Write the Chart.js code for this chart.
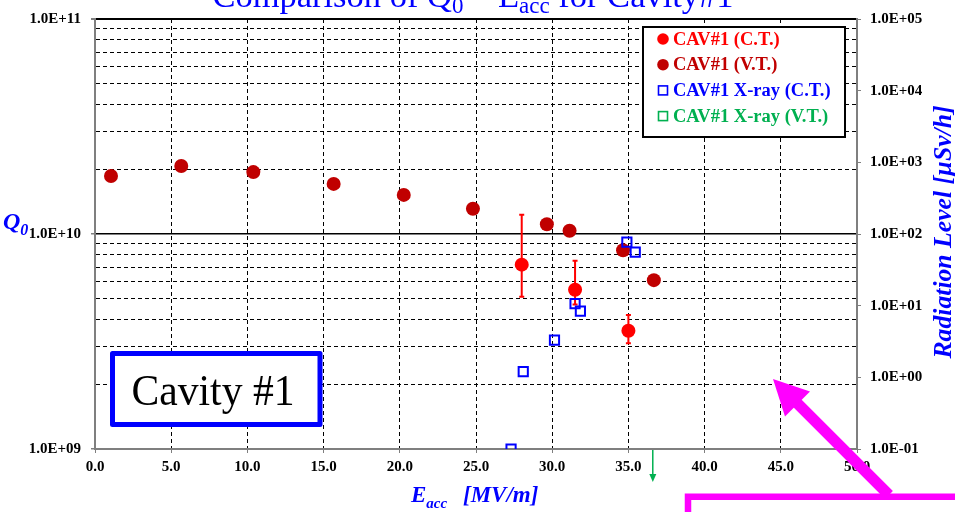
<!DOCTYPE html>
<html>
<head>
<meta charset="utf-8">
<script src="https://cdn.jsdelivr.net/npm/chart.js@4.4.0/dist/chart.umd.min.js"></script>
<style>
  html, body { margin: 0; padding: 0; background: #fff; }
  #wrap { width: 955px; height: 512px; }
</style>
</head>
<body>
<div id="wrap"><canvas id="q0Chart" width="955" height="512"></canvas></div>
<script>
// Vertical test: Eacc [MV/m] vs Q0
const vtEacc = [1.05, 5.66, 10.39, 15.66, 20.26, 24.8, 29.65, 31.14, 34.65, 36.67];
const vtQ0 = [1.86e10, 2.07e10, 1.94e10, 1.71e10, 1.52e10, 1.31e10, 1.11e10, 1.035e10, 8.4e9, 6.1e9];

// Cryomodule test, with upper / lower limits of the error bars
const ctEacc = [28.0, 31.5, 35.0];
const ctQ0 = [7.2e9, 5.5e9, 3.55e9];
const ctQ0Hi = [1.23e10, 7.5e9, 4.2e9];
const ctQ0Lo = [5.1e9, 4.7e9, 3.1e9];

// Radiation level [uSv/h] during the cryomodule test
const xrayCtEacc = [27.3, 28.1, 30.15, 31.5, 31.85, 34.9, 35.45];
const xrayCtDose = [0.1, 1.2, 3.3, 10.7, 8.4, 77, 56];

// Vertical test radiation: below the axis range, shown as an arrow
const xrayVtEacc = [36.6];
const xrayVtDose = [0.05];

const seriesLabels = ['CAV#1 (C.T.)', 'CAV#1 (V.T.)', 'CAV#1 X-ray (C.T.)', 'CAV#1 X-ray (V.T.)'];

const BLUE = '#0000ff', RED = '#ff0000', DARKRED = '#c00000', GREEN = '#00b050', MAGENTA = '#ff00ff';
const GRAY = '#7f7f7f', CLEAR = 'rgba(0,0,0,0)';
const SERIF = '"Liberation Serif", "Times New Roman", serif';

const pts = (xs, ys) => xs.map((x, i) => ({ x: x, y: ys[i] }));
const isDecade = v => Math.abs(Math.log10(v) - Math.round(Math.log10(v))) < 1e-9;
const expLabel = v => {
  const e = Math.round(Math.log10(v));
  return '1.0E' + (e < 0 ? '-' : '+') + String(Math.abs(e)).padStart(2, '0');
};

const q0Ticks = [];
for (let e = 9; e < 11; e++) for (let m = 1; m < 10; m++) q0Ticks.push(m * Math.pow(10, e));
q0Ticks.push(1e11);
const doseTicks = [0.1, 1, 10, 100, 1000, 10000, 100000];

const tickFont = { family: SERIF, size: 15, weight: 'bold' };

// text with subscripts: parts = [[text, isSub], ...]
function drawRich(ctx, parts, x, y, size, style, color, subSize, subDrop) {
  ctx.fillStyle = color;
  ctx.textBaseline = 'alphabetic';
  ctx.textAlign = 'left';
  let cx = x;
  parts.forEach(([t, sub]) => {
    ctx.font = style + ' ' + (sub ? subSize : size) + 'px ' + SERIF;
    ctx.fillText(t, cx, sub ? y + subDrop : y);
    cx += ctx.measureText(t).width;
  });
  return cx - x;
}
function richWidth(ctx, parts, size, style, subSize) {
  let w = 0;
  parts.forEach(([t, sub]) => {
    ctx.font = style + ' ' + (sub ? subSize : size) + 'px ' + SERIF;
    w += ctx.measureText(t).width;
  });
  return w;
}

const errorBars = {
  id: 'errorBars',
  beforeDatasetsDraw(chart) {
    const { ctx, scales: { x, y } } = chart;
    ctx.save();
    ctx.strokeStyle = RED;
    ctx.lineWidth = 2;
    ctEacc.forEach((e, i) => {
      const px = x.getPixelForValue(e);
      const top = y.getPixelForValue(ctQ0Hi[i]);
      const bot = y.getPixelForValue(ctQ0Lo[i]);
      ctx.beginPath();
      ctx.moveTo(px, top); ctx.lineTo(px, bot);
      ctx.moveTo(px - 2.5, top); ctx.lineTo(px + 2.5, top);
      ctx.moveTo(px - 2.5, bot); ctx.lineTo(px + 2.5, bot);
      ctx.stroke();
    });
    ctx.restore();
  }
};

const decorations = {
  id: 'decorations',
  afterDraw(chart) {
    const { ctx, scales: { x, y2 } } = chart;
    ctx.save();

    // title, top part runs off the canvas
    const title = [['Comparison of Q', false], ['0', true], [' \u2013 E', false], ['acc', true], [' for Cavity#1', false]];
    const tw = richWidth(ctx, title, 34.5, 'normal', 23);
    drawRich(ctx, title, 473 - tw / 2, 7, 34.5, 'normal', BLUE, 23, 6);

    // axis titles
    drawRich(ctx, [['Q', false], ['0', true]], 3, 229, 24, 'italic bold', BLUE, 16, 6);
    drawRich(ctx, [['E', false], ['acc', true]], 411, 502, 23, 'italic bold', BLUE, 15, 6);
    drawRich(ctx, [['[MV/m]', false]], 463, 502, 23, 'italic bold', BLUE, 15, 6);
    ctx.save();
    ctx.translate(944, 232);
    ctx.rotate(-Math.PI / 2);
    ctx.font = 'italic bold 25.7px ' + SERIF;
    ctx.fillStyle = BLUE;
    ctx.textAlign = 'center';
    ctx.textBaseline = 'middle';
    ctx.fillText('Radiation Level [\u00b5Sv/h]', 0, 0);
    ctx.restore();

    // legend box
    ctx.fillStyle = '#fff';
    ctx.fillRect(643, 27, 202, 110);
    ctx.strokeStyle = '#000';
    ctx.lineWidth = 2;
    ctx.strokeRect(643, 27, 202, 110);
    const sets = chart.data.datasets;
    seriesLabels.forEach((lab, i) => {
      const ds = sets[i];
      const ly = 39 + i * 25.7;
      if (ds.pointStyle === 'circle') {
        ctx.fillStyle = ds.backgroundColor;
        ctx.beginPath();
        ctx.arc(663, ly, 5.8, 0, Math.PI * 2);
        ctx.fill();
      } else {
        ctx.strokeStyle = ds.borderColor;
        ctx.lineWidth = 1.6;
        ctx.strokeRect(658.5, ly - 4.5, 9, 9);
      }
      ctx.font = 'bold 18.5px ' + SERIF;
      ctx.fillStyle = ds.pointStyle === 'circle' ? ds.backgroundColor : ds.borderColor;
      ctx.textAlign = 'left';
      ctx.textBaseline = 'middle';
      ctx.fillText(lab, 673, ly + 1);
    });

    // off-scale X-ray points of the vertical test
    ctx.strokeStyle = GREEN;
    ctx.fillStyle = GREEN;
    ctx.lineWidth = 1.5;
    xrayVtEacc.forEach(e => {
      const px = x.getPixelForValue(e);
      const y0 = y2.bottom + 1;
      ctx.beginPath();
      ctx.moveTo(px, y0); ctx.lineTo(px, y0 + 26);
      ctx.stroke();
      ctx.beginPath();
      ctx.moveTo(px - 3.5, y0 + 24); ctx.lineTo(px + 3.5, y0 + 24); ctx.lineTo(px, y0 + 32);
      ctx.closePath();
      ctx.fill();
    });

    // "Cavity #1" label box
    ctx.fillStyle = '#fff';
    ctx.fillRect(112.5, 353.5, 207.5, 71);
    ctx.strokeStyle = BLUE;
    ctx.lineWidth = 5;
    ctx.lineJoin = 'round';
    ctx.strokeRect(112.5, 353.5, 207.5, 71);
    ctx.fillStyle = '#000';
    ctx.font = '44px ' + SERIF;
    ctx.textAlign = 'center';
    ctx.textBaseline = 'alphabetic';
    ctx.fillText('Cavity #1', 213, 405, 163);

    // magenta callout box and arrow
    ctx.strokeStyle = MAGENTA;
    ctx.fillStyle = MAGENTA;
    ctx.lineJoin = 'miter';
    ctx.lineWidth = 6.5;
    ctx.beginPath();
    ctx.moveTo(688, 520); ctx.lineTo(688, 496.7); ctx.lineTo(960, 496.7);
    ctx.stroke();
    ctx.lineWidth = 11;
    ctx.beginPath();
    ctx.moveTo(889, 495); ctx.lineTo(795, 401);
    ctx.stroke();
    ctx.beginPath();
    ctx.moveTo(773, 379); ctx.lineTo(810, 391.5); ctx.lineTo(785, 416.5);
    ctx.closePath();
    ctx.fill();

    ctx.restore();
  }
};

new Chart(document.getElementById('q0Chart'), {
  type: 'scatter',
  data: {
    datasets: [
      { label: seriesLabels[0], data: pts(ctEacc, ctQ0), yAxisID: 'y', pointStyle: 'circle',
        pointRadius: 7, backgroundColor: RED, borderColor: RED, borderWidth: 0, order: 2 },
      { label: seriesLabels[1], data: pts(vtEacc, vtQ0), yAxisID: 'y', pointStyle: 'circle',
        pointRadius: 7, backgroundColor: DARKRED, borderColor: DARKRED, borderWidth: 0, order: 3 },
      { label: seriesLabels[2], data: pts(xrayCtEacc, xrayCtDose), yAxisID: 'y2', pointStyle: 'rect',
        pointRadius: 6.5, backgroundColor: 'rgba(255,255,255,0)', borderColor: BLUE, borderWidth: 2, order: 0 },
      { label: seriesLabels[3], data: pts(xrayVtEacc, xrayVtDose), yAxisID: 'y2', pointStyle: 'rect',
        pointRadius: 0, backgroundColor: CLEAR, borderColor: GREEN, borderWidth: 2, order: 1 }
    ]
  },
  options: {
    responsive: false,
    animation: false,
    devicePixelRatio: 1,
    layout: { padding: { top: 16, left: 0, right: 0, bottom: 0 } },
    plugins: { legend: { display: false }, tooltip: { enabled: false } },
    scales: {
      x: {
        type: 'linear', min: 0, max: 50,
        ticks: { stepSize: 5, color: '#000', font: tickFont, padding: 5, maxRotation: 0,
                 callback: v => v.toFixed(1) },
        grid: {
          color: c => (c.tick && (c.tick.value === 0 || c.tick.value === 50)) ? CLEAR : '#000',
          lineWidth: 1, tickColor: GRAY, tickLength: 4
        },
        border: { color: GRAY, width: 2, dash: c => c.tick ? [4, 3] : [] },
        afterFit: s => { s.height = 63; }
      },
      y: {
        type: 'logarithmic', position: 'left', min: 1e9, max: 1e11,
        afterBuildTicks: s => { s.ticks = q0Ticks.map(v => ({ value: v })); },
        ticks: { autoSkip: false, color: '#000', font: tickFont, padding: 10,
                 callback: v => isDecade(v) ? expLabel(v) : '' },
        grid: {
          color: c => (!c.tick || c.tick.value === 1e9) ? CLEAR : '#000',
          lineWidth: c => (c.tick && c.tick.value === 1e11) ? 2 : (c.tick && isDecade(c.tick.value) ? 1.5 : 1),
          tickColor: c => (c.tick && isDecade(c.tick.value)) ? GRAY : CLEAR,
          tickLength: 4
        },
        border: { color: GRAY, width: 2, dash: c => (c.tick && !isDecade(c.tick.value)) ? [4, 3] : [] },
        afterFit: s => { s.width = 95; }
      },
      y2: {
        type: 'logarithmic', position: 'right', min: 0.1, max: 1e5,
        afterBuildTicks: s => { s.ticks = doseTicks.map(v => ({ value: v })); },
        ticks: { autoSkip: false, color: '#000', font: tickFont, padding: 9,
                 callback: v => expLabel(v) },
        grid: { drawOnChartArea: false, tickColor: GRAY, tickLength: 4 },
        border: { color: GRAY, width: 2 },
        afterFit: s => { s.width = 98; }
      }
    }
  },
  plugins: [errorBars, decorations]
});
</script>
</body>
</html>
